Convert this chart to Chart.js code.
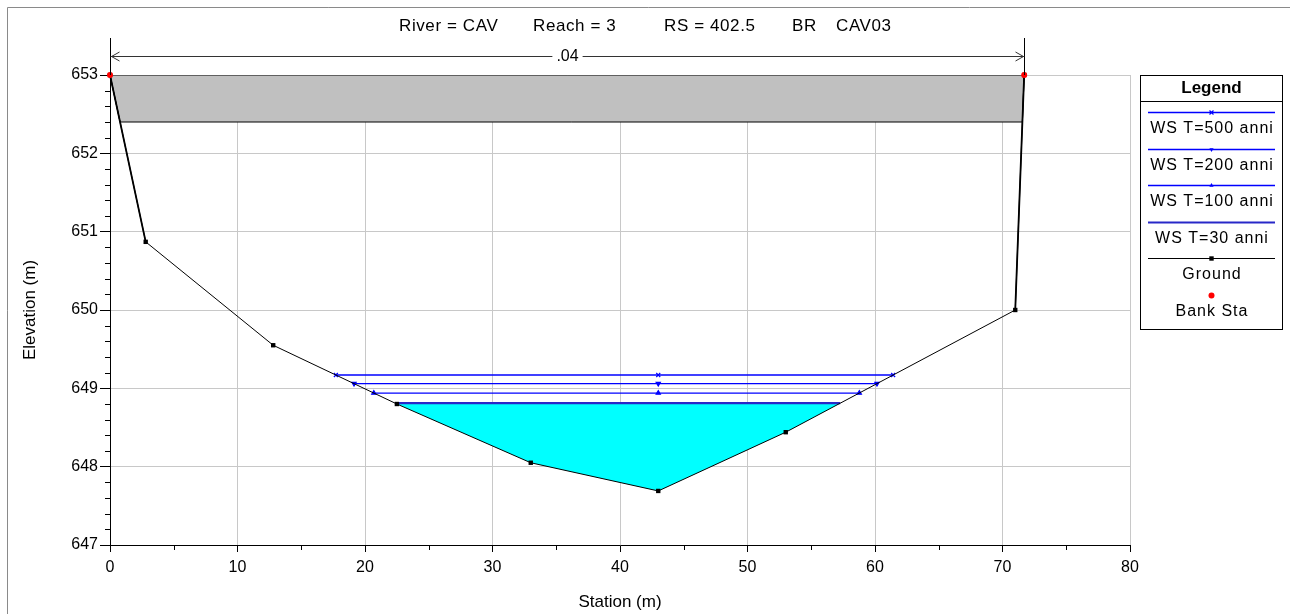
<!DOCTYPE html>
<html>
<head>
<meta charset="utf-8">
<title>RS 402.5 BR CAV03</title>
<script src="https://cdn.jsdelivr.net/npm/chart.js@4.4.1/dist/chart.umd.min.js"></script>
<style>
  html, body { margin: 0; padding: 0; background: #fff; }
  #wrap { width: 1290px; height: 614px; }
</style>
</head>
<body>
<div id="wrap"><canvas id="xs" width="1290" height="614"></canvas></div>
<script>
// cross section geometry (station m, elevation m)
const groundSta  = [0, 2.8, 12.8, 22.5, 33, 43, 53, 71, 71.7];
const groundElev = [653, 650.87, 649.55, 648.8, 648.05, 647.69, 648.44, 650.0, 653];
const bankSta = [0, 71.7];
// bridge deck
const highChord = 653.0;
const lowChord = 652.4;
// manning n ranges
const nValues = ['.04'];
const nEdges = [0, 71.7];
// water surface profiles
const wsNames = ['WS T=500 anni', 'WS T=200 anni', 'WS T=100 anni', 'WS T=30 anni'];
const wsElev = [649.17, 649.06, 648.94, 648.81];
const titleParts = ['River = CAV', 'Reach = 3', 'RS = 402.5', 'BR', 'CAV03'];

const FONT = 'Arial, "Liberation Sans", sans-serif';
Chart.defaults.font.family = FONT;
Chart.defaults.color = '#000';

function lerpSta(i, j, z) {
  const z0 = groundElev[i], z1 = groundElev[j];
  return groundSta[i] + (z - z0) / (z1 - z0) * (groundSta[j] - groundSta[i]);
}

// where a level z meets the ground on both sides of the thalweg
function wetted(z) {
  const lo = groundElev.indexOf(Math.min(...groundElev));
  let i = lo; while (i > 0 && groundElev[i - 1] < z) i--;
  let j = lo; while (j < groundElev.length - 1 && groundElev[j + 1] < z) j++;
  const left = lerpSta(i - 1, i, z);
  const right = lerpSta(j, j + 1, z);
  const inner = [];
  for (let k = i; k <= j; k++) inner.push({ x: groundSta[k], y: groundElev[k] });
  return { left, right, inner, mid: groundSta[lo] };
}

const pts = (xs, ys) => xs.map((x, i) => ({ x, y: ys[i] }));
const ground = pts(groundSta, groundElev);

// deck polygon bounded by the ground at both ends
const nG = groundSta.length;
const deck = [
  { x: groundSta[0], y: highChord },
  { x: groundSta[nG - 1], y: highChord },
  { x: lerpSta(nG - 2, nG - 1, lowChord), y: lowChord },
  { x: lerpSta(0, 1, lowChord), y: lowChord },
  { x: groundSta[0], y: highChord }
];

const w30 = wetted(wsElev[3]);
const water = [{ x: w30.left, y: wsElev[3] }, ...w30.inner, { x: w30.right, y: wsElev[3] }, { x: w30.left, y: wsElev[3] }];

const wsStyle = [
  { pointStyle: 'crossRot', rotation: 0, radius: 2.8, color: '#0000ff', width: 1.3 },
  { pointStyle: 'triangle', rotation: 180, radius: 2.4, color: '#0000ff', width: 1.3 },
  { pointStyle: 'triangle', rotation: 0, radius: 2.4, color: '#0000ff', width: 1.3 },
  { pointStyle: false, rotation: 0, radius: 0, color: '#2828c8', width: 2.2 }
];

const wsSets = wsElev.map((z, k) => {
  const w = wetted(z);
  const s = wsStyle[k];
  return {
    label: wsNames[k],
    data: [{ x: w.left, y: z }, { x: w.mid, y: z }, { x: w.right, y: z }],
    showLine: true,
    borderColor: s.color,
    backgroundColor: s.color,
    borderWidth: s.width,
    pointStyle: s.pointStyle || 'circle',
    pointRadius: s.radius,
    pointRotation: s.rotation,
    pointBorderWidth: 1.2,
    clip: false,
    order: 5
  };
});

const datasets = [
  {
    label: 'Deck',
    data: deck,
    showLine: true,
    fill: 'shape',
    backgroundColor: '#c0c0c0',
    borderColor: '#000',
    borderWidth: 1,
    pointRadius: 0,
    order: 10
  },
  {
    label: 'Wet area',
    data: water,
    showLine: true,
    fill: 'shape',
    backgroundColor: '#00ffff',
    borderColor: 'rgba(0,0,0,0)',
    borderWidth: 1,
    pointRadius: 0,
    order: 9
  },
  ...wsSets,
  {
    label: 'Abutments',
    data: [ground[0], ground[1], { x: NaN, y: NaN }, ground[nG - 2], ground[nG - 1]],
    showLine: true,
    spanGaps: false,
    borderColor: '#000',
    borderWidth: 1.8,
    pointRadius: 0,
    clip: false,
    order: 3
  },
  {
    label: 'Ground',
    data: ground,
    showLine: true,
    borderColor: '#000',
    backgroundColor: '#000',
    borderWidth: 1,
    pointStyle: 'rect',
    pointRadius: 3.1,
    pointBorderWidth: 0,
    clip: false,
    order: 2
  },
  {
    label: 'Bank Sta',
    data: bankSta.map(x => ({ x, y: groundElev[groundSta.indexOf(x)] })),
    showLine: false,
    backgroundColor: '#ff0000',
    borderColor: '#ff0000',
    pointRadius: 3,
    pointBorderWidth: 0,
    clip: false,
    order: 1
  }
];

const legendItems = [
  ...wsNames.map((name, k) => ({ name, line: wsStyle[k].color, lw: wsStyle[k].width, style: wsStyle[k] })),
  { name: 'Ground', line: '#000', lw: 1, style: { pointStyle: 'rect', rotation: 0, radius: 3.1, color: '#000' } },
  { name: 'Bank Sta', line: null, style: { pointStyle: 'circle', rotation: 0, radius: 3, color: '#ff0000' } }
];

const decor = {
  id: 'decor',
  afterDraw(chart) {
    const ctx = chart.ctx;
    const xs = chart.scales.x, ys = chart.scales.y;
    const area = chart.chartArea;
    ctx.save();

    // outer frame
    ctx.strokeStyle = '#8a8a8a';
    ctx.lineWidth = 1;
    ctx.beginPath();
    ctx.moveTo(7.5, 614);
    ctx.lineTo(7.5, 7.5);
    ctx.lineTo(1290, 7.5);
    ctx.stroke();

    // title
    ctx.fillStyle = '#000';
    ctx.font = '17px ' + FONT;
    ctx.letterSpacing = '0.6px';
    ctx.textBaseline = 'middle';
    ctx.textAlign = 'left';
    const starts = [399, 533, 664, 792, 836];
    titleParts.forEach((t, i) => ctx.fillText(t, starts[i], 26));

    // minor ticks
    ctx.letterSpacing = '0px';
    ctx.strokeStyle = '#000';
    ctx.beginPath();
    for (let v = 647; v < 653; v += 1) {
      for (let m = 1; m < 5; m++) {
        const y = Math.round(ys.getPixelForValue(v + m * 0.2)) + 0.5;
        ctx.moveTo(area.left - 5, y);
        ctx.lineTo(area.left, y);
      }
    }
    for (let v = 5; v < 80; v += 10) {
      const x = Math.round(xs.getPixelForValue(v)) + 0.5;
      ctx.moveTo(x, area.bottom);
      ctx.lineTo(x, area.bottom + 5);
    }
    ctx.stroke();

    // manning n range markers above the deck
    const yN = 56;
    const xa = Math.round(xs.getPixelForValue(nEdges[0])) + 0.5;
    const xb = Math.round(xs.getPixelForValue(nEdges[1])) + 0.5;
    const xc = (xa + xb) / 2;
    ctx.lineWidth = 1;
    ctx.strokeStyle = '#000';
    ctx.beginPath();
    ctx.moveTo(xa, 38); ctx.lineTo(xa, area.top);
    ctx.moveTo(xb, 38); ctx.lineTo(xb, area.top);
    ctx.stroke();
    ctx.font = '16px ' + FONT;
    ctx.textAlign = 'center';
    const tw = ctx.measureText(nValues[0]).width;
    ctx.strokeStyle = '#333';
    ctx.beginPath();
    ctx.moveTo(xa, yN + 0.5); ctx.lineTo(xc - tw / 2 - 4, yN + 0.5);
    ctx.moveTo(xc + tw / 2 + 4, yN + 0.5); ctx.lineTo(xb, yN + 0.5);
    ctx.moveTo(xa + 9, yN - 4); ctx.lineTo(xa + 1, yN + 0.5); ctx.lineTo(xa + 9, yN + 5);
    ctx.moveTo(xb - 9, yN - 4); ctx.lineTo(xb - 1, yN + 0.5); ctx.lineTo(xb - 9, yN + 5);
    ctx.stroke();
    ctx.fillText(nValues[0], xc, yN + 1);

    // legend box
    const L = 1140.5, T = 75.5, R = 1282.5, B = 329.5;
    ctx.fillStyle = '#fff';
    ctx.fillRect(L, T, R - L, B - T);
    ctx.strokeStyle = '#000';
    ctx.lineWidth = 1;
    ctx.strokeRect(L, T, R - L, B - T);
    ctx.beginPath();
    ctx.moveTo(L, 101.5); ctx.lineTo(R, 101.5);
    ctx.stroke();
    const cx = (L + R) / 2;
    ctx.fillStyle = '#000';
    ctx.font = 'bold 17px ' + FONT;
    ctx.textAlign = 'center';
    ctx.fillText('Legend', cx, 88);
    ctx.font = '16px ' + FONT;
    ctx.letterSpacing = '1px';
    legendItems.forEach((it, k) => {
      const yl = Math.round(112 + k * 36.5) + 0.5;
      if (it.line) {
        ctx.strokeStyle = it.line;
        ctx.lineWidth = it.lw;
        ctx.beginPath();
        ctx.moveTo(1148, yl); ctx.lineTo(1275, yl);
        ctx.stroke();
      }
      if (it.style.pointStyle) {
        ctx.fillStyle = it.style.color;
        ctx.strokeStyle = it.style.color;
        ctx.lineWidth = 1.2;
        Chart.helpers.drawPoint(ctx, {
          pointStyle: it.style.pointStyle,
          rotation: it.style.rotation,
          radius: it.style.radius,
          borderWidth: it.style.pointStyle === 'crossRot' ? 1.2 : 0
        }, cx, yl);
      }
      ctx.fillStyle = '#000';
      ctx.fillText(it.name, cx + 0.5, yl + 16);
    });
    ctx.restore();
  }
};

new Chart(document.getElementById('xs'), {
  type: 'scatter',
  data: { datasets },
  plugins: [decor],
  options: {
    responsive: false,
    animation: false,
    devicePixelRatio: 1,
    layout: { padding: { top: 75, right: 160, left: 0, bottom: 0 } },
    plugins: {
      legend: { display: false },
      tooltip: { enabled: false },
      title: { display: false }
    },
    scales: {
      x: {
        type: 'linear',
        min: 0,
        max: 80,
        ticks: { stepSize: 10, font: { size: 16 }, color: '#000', padding: 6, maxRotation: 0 },
        grid: { color: '#c8c8c8', tickColor: '#000', tickLength: 7 },
        border: { color: '#000' },
        title: { display: true, text: 'Station (m)', font: { size: 17 }, color: '#000', padding: { top: 0, bottom: 1 } },
        afterFit(s) { s.height = 69; }
      },
      y: {
        type: 'linear',
        min: 647,
        max: 653,
        ticks: { stepSize: 1, font: { size: 16 }, color: '#000', padding: 2 },
        grid: { color: '#c8c8c8', tickColor: '#000', tickLength: 10 },
        border: { color: '#000' },
        title: { display: true, text: 'Elevation (m)', font: { size: 17 }, color: '#000', padding: { top: 20, bottom: 0 } },
        afterFit(s) { s.width = 110; }
      }
    }
  }
});
</script>
</body>
</html>
